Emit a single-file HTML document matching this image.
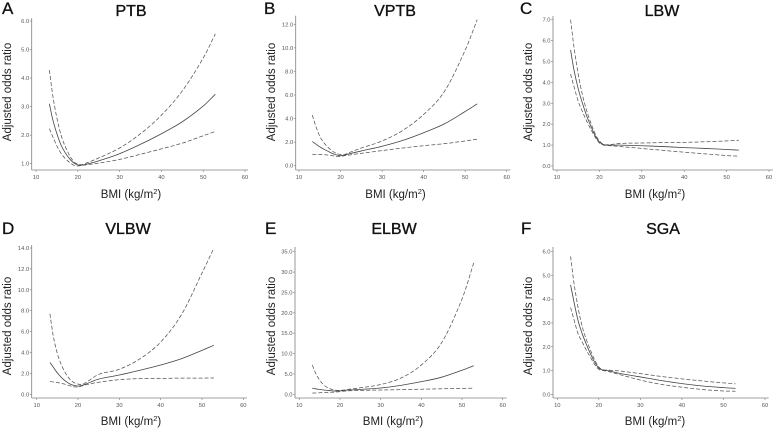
<!DOCTYPE html>
<html lang="en">
<head>
<meta charset="utf-8">
<title>Adjusted odds ratio by BMI</title>
<style>
html,body{margin:0;padding:0;background:#fff;width:777px;height:428px;overflow:hidden}
svg{display:block;font-family:"Liberation Sans",sans-serif}
.panel-letter{font-size:17px;fill:#111;stroke:#111;stroke-width:.3}
.panel-title{font-size:16px;fill:#111;text-anchor:middle;stroke:#111;stroke-width:.35}
.axis-title{font-size:11.5px;fill:#222;text-anchor:middle}
.tick-label{font-size:5.8px;fill:#555}
</style>
</head>
<body>
<svg id="chart" width="777" height="428" viewBox="0 0 777 428" xmlns="http://www.w3.org/2000/svg">
  <g>
    <text class="panel-letter" x="2" y="14">A</text>
    <text class="panel-title" x="131" y="16">PTB</text>
    <text class="axis-title" x="131" y="198">BMI (kg/m<tspan dy="-4" font-size="7.5">2</tspan><tspan dy="4">)</tspan></text>
    <text class="axis-title" transform="translate(11 92) rotate(-90)">Adjusted odds ratio</text>
  </g>
  <g>
    <text class="panel-letter" x="264" y="14">B</text>
    <text class="panel-title" x="395" y="16">VPTB</text>
    <text class="axis-title" x="395.5" y="198">BMI (kg/m<tspan dy="-4" font-size="7.5">2</tspan><tspan dy="4">)</tspan></text>
    <text class="axis-title" transform="translate(275 92) rotate(-90)">Adjusted odds ratio</text>
  </g>
  <g>
    <text class="panel-letter" x="520" y="14">C</text>
    <text class="panel-title" x="662" y="16">LBW</text>
    <text class="axis-title" x="655" y="198">BMI (kg/m<tspan dy="-4" font-size="7.5">2</tspan><tspan dy="4">)</tspan></text>
    <text class="axis-title" transform="translate(532 92) rotate(-90)">Adjusted odds ratio</text>
  </g>
  <g>
    <text class="panel-letter" x="2" y="234">D</text>
    <text class="panel-title" x="128" y="234">VLBW</text>
    <text class="axis-title" x="131" y="425">BMI (kg/m<tspan dy="-4" font-size="7.5">2</tspan><tspan dy="4">)</tspan></text>
    <text class="axis-title" transform="translate(11 326) rotate(-90)">Adjusted odds ratio</text>
  </g>
  <g>
    <text class="panel-letter" x="265" y="234">E</text>
    <text class="panel-title" x="394" y="234">ELBW</text>
    <text class="axis-title" x="393" y="425">BMI (kg/m<tspan dy="-4" font-size="7.5">2</tspan><tspan dy="4">)</tspan></text>
    <text class="axis-title" transform="translate(275 326) rotate(-90)">Adjusted odds ratio</text>
  </g>
  <g>
    <text class="panel-letter" x="521" y="234">F</text>
    <text class="panel-title" x="663" y="234">SGA</text>
    <text class="axis-title" x="655" y="425">BMI (kg/m<tspan dy="-4" font-size="7.5">2</tspan><tspan dy="4">)</tspan></text>
    <text class="axis-title" transform="translate(532 326) rotate(-90)">Adjusted odds ratio</text>
  </g>
</svg>
<script>
// Shared BMI categories and tick labels
const bmiValues = [13.2,14,15,16,17,18,19,20,21,22,25,30,35,40,45,50,52.9];
const xTickValues = [10,20,30,40,50,60];

// PTB
const ptbTicks = [1,2,3,4,5,6];
const ptbMid   = [3.1,2.55,2.05,1.65,1.38,1.18,1.03,0.96,0.95,0.98,1.1,1.35,1.68,2.05,2.47,3.02,3.43];
const ptbUpper = [4.28,3.4,2.6,2.0,1.6,1.3,1.08,0.98,0.97,1.02,1.2,1.55,2.05,2.7,3.55,4.7,5.55];
const ptbLower = [2.23,1.95,1.62,1.36,1.18,1.05,0.95,0.92,0.94,0.96,1.02,1.15,1.33,1.52,1.72,1.98,2.13];

// VPTB
const vptbTicks = [0,2,4,6,8,10,12];
const vptbMid   = [2.05,1.85,1.6,1.4,1.22,1.05,0.92,0.85,0.9,1.0,1.25,1.65,2.15,2.8,3.55,4.6,5.25];
const vptbUpper = [4.3,3.4,2.5,1.95,1.55,1.25,1.05,0.95,0.95,1.1,1.5,2.1,3.0,4.35,6.3,9.8,12.4];
const vptbLower = [0.97,0.96,0.95,0.93,0.9,0.85,0.78,0.78,0.85,0.9,1.05,1.28,1.5,1.7,1.87,2.1,2.25];

// LBW
const lbwTicks = [0,1,2,3,4,5,6,7];
const lbwMid   = [5.55,4.6,3.7,3.0,2.4,1.9,1.45,1.15,1.02,1.0,1.0,0.97,0.93,0.88,0.84,0.79,0.76];
const lbwUpper = [7.0,5.7,4.4,3.4,2.65,2.05,1.55,1.2,1.03,1.02,1.08,1.1,1.12,1.13,1.16,1.2,1.23];
const lbwLower = [4.4,3.8,3.1,2.6,2.15,1.75,1.38,1.1,1.0,0.98,0.93,0.84,0.75,0.66,0.58,0.5,0.47];

// VLBW
const vlbwTicks = [0,2,4,6,8,10,12,14];
const vlbwMid   = [3.05,2.6,2.05,1.6,1.25,1.0,0.85,0.78,0.85,1.0,1.45,1.85,2.3,2.8,3.4,4.2,4.7];
const vlbwUpper = [7.7,5.6,3.9,2.8,2.0,1.45,1.12,0.98,0.95,1.15,1.9,2.4,3.4,5.0,7.6,11.6,14.0];
const vlbwLower = [1.22,1.18,1.12,1.05,0.95,0.82,0.72,0.7,0.8,0.92,1.15,1.4,1.5,1.52,1.55,1.55,1.56];

// ELBW
const elbwTicks = [0,5,10,15,20,25,30,35];
const elbwMid   = [1.5,1.35,1.2,1.05,0.95,0.85,0.8,0.85,0.95,1.05,1.2,1.55,2.2,3.1,4.2,5.9,7.0];
const elbwUpper = [7.2,5.2,3.5,2.3,1.6,1.2,1.0,0.95,1.05,1.2,1.6,2.4,4.0,7.2,12.7,23.4,32.3];
const elbwLower = [0.3,0.33,0.38,0.42,0.46,0.5,0.55,0.65,0.78,0.85,0.95,1.05,1.15,1.25,1.35,1.45,1.5];

// SGA
const sgaTicks = [0,1,2,3,4,5,6];
const sgaMid   = [4.6,3.9,3.1,2.55,2.1,1.7,1.35,1.1,1.02,1.0,0.88,0.73,0.58,0.45,0.35,0.28,0.25];
const sgaUpper = [5.8,4.7,3.65,2.85,2.3,1.85,1.45,1.15,1.03,1.02,0.98,0.87,0.75,0.65,0.56,0.48,0.44];
const sgaLower = [3.65,3.15,2.55,2.2,1.85,1.55,1.25,1.05,1.0,0.97,0.83,0.6,0.42,0.3,0.2,0.14,0.13];

const SVGNS = 'http://www.w3.org/2000/svg';
const svg = document.getElementById('chart');

function makeEl(tag, parent) {
  const el = document.createElementNS(SVGNS, tag);
  parent.appendChild(el);
  return el;
}

// Cubic Hermite spline with tangents weighted by x-distance, so uneven BMI spacing leaves no kinks
function curvePath(pts) {
  const n = pts.length;
  const slope = i => {
    const a = pts[Math.max(0, i - 1)], b = pts[Math.min(n - 1, i + 1)];
    return (b[1] - a[1]) / (b[0] - a[0]);
  };
  let d = 'M' + pts[0][0].toFixed(2) + ' ' + pts[0][1].toFixed(2);
  for (let i = 0; i < n - 1; i++) {
    const p1 = pts[i], p2 = pts[i + 1];
    const h = (p2[0] - p1[0]) / 3;
    const c1x = p1[0] + h, c1y = p1[1] + h * slope(i);
    const c2x = p2[0] - h, c2y = p2[1] - h * slope(i + 1);
    d += 'C' + c1x.toFixed(2) + ' ' + c1y.toFixed(2) + ' ' + c2x.toFixed(2) + ' ' + c2y.toFixed(2) + ' ' + p2[0].toFixed(2) + ' ' + p2[1].toFixed(2);
  }
  return d;
}

function drawPanel(name, frame, yTicks, mid, upper, lower) {
  const g = makeEl('g', svg);
  
  

  const xScale = v => frame.x10 + (v - 10) * (frame.x60 - frame.x10) / 50;
  const yMin = yTicks[0], yMax = yTicks[yTicks.length - 1];
  const yScale = v => frame.yLow + (v - yMin) * (frame.yHigh - frame.yLow) / (yMax - yMin);

  const yAxis = makeEl('line', g);
  
  
  yAxis.setAttribute('x1', frame.left); yAxis.setAttribute('x2', frame.left);
  yAxis.setAttribute('y1', frame.top); yAxis.setAttribute('y2', frame.bottom);
  yAxis.setAttribute('stroke', '#808080'); yAxis.setAttribute('stroke-width', '0.8');

  const xAxis = makeEl('line', g);
  
  
  xAxis.setAttribute('x1', frame.left); xAxis.setAttribute('x2', frame.right);
  xAxis.setAttribute('y1', frame.bottom); xAxis.setAttribute('y2', frame.bottom);
  xAxis.setAttribute('stroke', '#808080'); xAxis.setAttribute('stroke-width', '0.8');

  xTickValues.forEach(v => {
    const tick = makeEl('line', g);
    
    
    tick.setAttribute('x1', xScale(v)); tick.setAttribute('x2', xScale(v));
    tick.setAttribute('y1', frame.bottom); tick.setAttribute('y2', frame.bottom + 2);
    tick.setAttribute('stroke', '#808080'); tick.setAttribute('stroke-width', '0.6');
    const label = makeEl('text', g);
    
    
    label.setAttribute('class', 'tick-label');
    label.setAttribute('x', xScale(v)); label.setAttribute('y', frame.bottom + 9);
    label.setAttribute('text-anchor', 'middle');
    label.textContent = String(v);
  });

  yTicks.forEach(v => {
    const tick = makeEl('line', g);
    
    
    tick.setAttribute('x1', frame.left - 2); tick.setAttribute('x2', frame.left);
    tick.setAttribute('y1', yScale(v)); tick.setAttribute('y2', yScale(v));
    tick.setAttribute('stroke', '#808080'); tick.setAttribute('stroke-width', '0.6');
    const label = makeEl('text', g);
    
    
    label.setAttribute('class', 'tick-label');
    label.setAttribute('x', frame.left - 2.5); label.setAttribute('y', yScale(v) + 2);
    label.setAttribute('text-anchor', 'end');
    label.textContent = v.toFixed(1);
  });

  const toPoints = vals => vals.map((v, i) => [xScale(bmiValues[i]), yScale(v)]);

  const lowerLine = makeEl('path', g);
  
  
  lowerLine.setAttribute('d', curvePath(toPoints(lower)));
  lowerLine.setAttribute('fill', 'none'); lowerLine.setAttribute('stroke', '#555');
  lowerLine.setAttribute('stroke-width', '0.75'); lowerLine.setAttribute('stroke-dasharray', '4 2');

  const upperLine = makeEl('path', g);
  
  
  upperLine.setAttribute('d', curvePath(toPoints(upper)));
  upperLine.setAttribute('fill', 'none'); upperLine.setAttribute('stroke', '#555');
  upperLine.setAttribute('stroke-width', '0.75'); upperLine.setAttribute('stroke-dasharray', '4 2');

  const midLine = makeEl('path', g);
  
  
  midLine.setAttribute('d', curvePath(toPoints(mid)));
  midLine.setAttribute('fill', 'none'); midLine.setAttribute('stroke', '#444');
  midLine.setAttribute('stroke-width', '0.8');
}

drawPanel('ptb',  {left:31.7,  right:248,   top:18.3, bottom:170, x10:36,    x60:245,   yLow:163.7, yHigh:21},    ptbTicks,  ptbMid,  ptbUpper,  ptbLower);
drawPanel('vptb', {left:295.7, right:510.5, top:15.7, bottom:170, x10:299,   x60:506.7, yLow:165.7, yHigh:24.3},  vptbTicks, vptbMid, vptbUpper, vptbLower);
drawPanel('lbw',  {left:553,   right:773,   top:16,   bottom:170, x10:557,   x60:769,   yLow:166,   yHigh:19.7},  lbwTicks,  lbwMid,  lbwUpper,  lbwLower);
drawPanel('vlbw', {left:31.7,  right:247,   top:245,  bottom:398, x10:36.7,  x60:243.3, yLow:394.3, yHigh:248},   vlbwTicks, vlbwMid, vlbwUpper, vlbwLower);
drawPanel('elbw', {left:295,   right:506.7, top:247,  bottom:398, x10:299.3, x60:502.7, yLow:394.3, yHigh:251.7}, elbwTicks, elbwMid, elbwUpper, elbwLower);
drawPanel('sga',  {left:553,   right:768.7, top:247,  bottom:398, x10:557.3, x60:765,   yLow:394.3, yHigh:251.7}, sgaTicks,  sgaMid,  sgaUpper,  sgaLower);
</script>
</body>
</html>
